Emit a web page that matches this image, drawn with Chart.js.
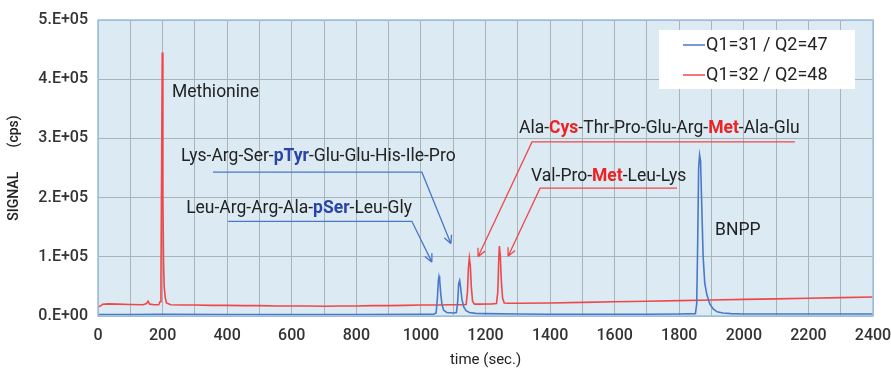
<!DOCTYPE html>
<html>
<head>
<meta charset="utf-8">
<script src="https://cdn.jsdelivr.net/npm/chart.js@4.4.1/dist/chart.umd.min.js"></script>
<style>
html, body { margin: 0; background: #fff; }
</style>
</head>
<body>
<canvas id="myChart" width="891" height="371"></canvas>
<script>
// chromatogram traces (time in sec, signal in cps)
var redTime = [0, 8, 15, 30, 60, 100, 140, 150, 155, 160, 175, 188, 192, 195, 197, 199, 201, 203, 205, 208, 212, 225, 260, 300, 350, 400, 450, 500, 550, 600, 650, 700, 750, 800, 850, 900, 950, 1000, 1050, 1100, 1130, 1140, 1144, 1147, 1150, 1153, 1156, 1160, 1166, 1180, 1220, 1234, 1238, 1241, 1243, 1246, 1249, 1253, 1258, 1270, 1300, 1400, 1500, 1600, 1700, 1800, 1900, 2000, 2100, 2200, 2300, 2400];
var redSignal = [15000, 17000, 20000, 20500, 20000, 19500, 19000, 21000, 25000, 20000, 19000, 19000, 24000, 60000, 250000, 445000, 200000, 90000, 50000, 32000, 22000, 19000, 18500, 18500, 18000, 18000, 17500, 17500, 17000, 17000, 17000, 16500, 17000, 17000, 17500, 17500, 18000, 18500, 18500, 19000, 19000, 19500, 40000, 80000, 98000, 85000, 50000, 25000, 20000, 20000, 20500, 21000, 40000, 95000, 118000, 100000, 60000, 30000, 22000, 21500, 21500, 22000, 23000, 24000, 25000, 26000, 27000, 28000, 29000, 30000, 31000, 32000];

var blueTime = [0, 100, 200, 400, 600, 800, 1000, 1040, 1047, 1051, 1054, 1056, 1058, 1061, 1065, 1070, 1080, 1100, 1110, 1114, 1117, 1120, 1123, 1127, 1133, 1140, 1150, 1170, 1200, 1300, 1400, 1500, 1600, 1700, 1800, 1850, 1854, 1857, 1860, 1863, 1866, 1870, 1874, 1879, 1886, 1895, 1905, 1917, 1935, 1960, 2000, 2200, 2400];
var blueSignal = [2500, 2500, 3000, 2500, 2500, 2500, 3000, 3000, 5000, 30000, 60000, 67000, 62000, 40000, 20000, 10000, 6000, 5000, 6000, 25000, 55000, 60000, 48000, 28000, 15000, 9000, 6000, 4500, 4000, 3500, 3000, 3000, 3000, 3000, 3500, 4000, 20000, 120000, 250000, 272000, 262000, 180000, 100000, 55000, 35000, 20000, 12000, 7000, 5000, 4000, 3500, 3500, 3500];

var seriesLabels = ['Q1=31 / Q2=47', 'Q1=32 / Q2=48'];
var yTicks = [0, 100000, 200000, 300000, 400000, 500000];

var BLUE = '#4a78c8';
var RED = '#f0474a';
var FONT = 'Roboto';

// peak labels, anchored in data units (time, signal)
var notes = [
    { x: 229, y: 378000, parts: [['Methionine']] },
    { x: 1911, y: 144000, parts: [['BNPP']] },
    { x: 257, y: 269000, parts: [['Lys-Arg-Ser-'], ['pTyr', '#2a44a8', true], ['-Glu-Glu-His-Ile-Pro']],
      color: BLUE, leader: [[356, 243000], [1003, 243000], [1093, 122000]] },
    { x: 273, y: 182000, parts: [['Leu-Arg-Arg-Ala-'], ['pSer', '#2a44a8', true], ['-Leu-Gly']],
      color: BLUE, leader: [[403, 160000], [972, 160000], [1034, 91000]] },
    { x: 1304, y: 316000, parts: [['Ala-'], ['Cys', '#ee2222', true], ['-Thr-Pro-Glu-Arg-'], ['Met', '#ee2222', true], ['-Ala-Glu']],
      color: RED, leader: [[2158, 294000], [1344, 294000], [1177, 100000]] },
    { x: 1341, y: 236000, parts: [['Val-Pro-'], ['Met', '#ee2222', true], ['-Leu-Lys']],
      color: RED, leader: [[1793, 216000], [1369, 216000], [1270, 101000]] }
];

function sci(v) {
    if (v === 0) return '0.E+00';
    var e = Math.floor(Math.log10(v));
    var m = Math.round(v / Math.pow(10, e));
    return m + '.E+' + (e < 10 ? '0' : '') + e;
}

function toPoints(xs, ys) {
    return xs.map(function (t, i) { return { x: t, y: ys[i] }; });
}

var plotDecor = {
    id: 'plotDecor',
    beforeDraw: function (chart) {
        var a = chart.chartArea, c = chart.ctx;
        c.save();
        c.fillStyle = '#dcebf3';
        c.fillRect(a.left, a.top, a.right - a.left, a.bottom - a.top);
        c.restore();
    },
    afterDatasetsDraw: function (chart) {
        var a = chart.chartArea, c = chart.ctx;
        var xs = chart.scales.x, ys = chart.scales.y;
        c.save();
        // frame
        c.strokeStyle = '#9fc0e2';
        c.lineWidth = 1.5;
        c.strokeRect(a.left, a.top, a.right - a.left, a.bottom - a.top);

        // annotations
        c.textBaseline = 'middle';
        notes.forEach(function (n) {
            var px = xs.getPixelForValue(n.x), py = ys.getPixelForValue(n.y);
            n.parts.forEach(function (p) {
                c.font = (p[2] ? 'bold ' : '') + '17.5px ' + FONT;
                c.fillStyle = p[1] || '#222';
                c.fillText(p[0], px, py);
                px += c.measureText(p[0]).width;
            });
            if (n.leader) {
                var pts = n.leader.map(function (q) {
                    return [xs.getPixelForValue(q[0]), ys.getPixelForValue(q[1])];
                });
                c.strokeStyle = n.color;
                c.lineWidth = 1.3;
                c.beginPath();
                c.moveTo(pts[0][0], pts[0][1]);
                for (var i = 1; i < pts.length; i++) c.lineTo(pts[i][0], pts[i][1]);
                var tip = pts[pts.length - 1], prev = pts[pts.length - 2];
                var ang = Math.atan2(tip[1] - prev[1], tip[0] - prev[0]);
                [0.45, -0.45].forEach(function (d) {
                    c.moveTo(tip[0], tip[1]);
                    c.lineTo(tip[0] - 9 * Math.cos(ang + d), tip[1] - 9 * Math.sin(ang + d));
                });
                c.stroke();
            }
        });

        // legend box
        var bx = a.right - 214, by = a.top + 10;
        c.fillStyle = '#fff';
        c.fillRect(bx, by, 196, 59);
        chart.data.datasets.forEach(function (ds, i) {
            var ly = by + 15 + i * 30;
            c.strokeStyle = ds.borderColor;
            c.lineWidth = 1.5;
            c.beginPath();
            c.moveTo(bx + 24, ly);
            c.lineTo(bx + 46, ly);
            c.stroke();
            c.font = '18px ' + FONT;
            c.fillStyle = '#222';
            c.fillText(ds.label, bx + 47, ly);
        });
        c.restore();
    }
};

var ctx = document.getElementById('myChart').getContext('2d');
var myChart = new Chart(ctx, {
    type: 'line',
    data: {
        datasets: [{
            label: seriesLabels[0],
            data: toPoints(blueTime, blueSignal),
            borderColor: BLUE,
            borderWidth: 1.6,
            pointRadius: 0,
            tension: 0
        }, {
            label: seriesLabels[1],
            data: toPoints(redTime, redSignal),
            borderColor: RED,
            borderWidth: 1.6,
            pointRadius: 0,
            tension: 0
        }]
    },
    options: {
        responsive: false,
        animation: false,
        layout: { padding: { top: 20, right: 18, left: 0, bottom: 0 } },
        plugins: {
            legend: { display: false },
            tooltip: { enabled: false }
        },
        scales: {
            x: {
                type: 'linear',
                min: 0,
                max: 2400,
                afterFit: function (s) { s.height = 55; s.paddingLeft = 0; s.paddingRight = 0; },
                grid: { color: '#aab3b8', drawTicks: false },
                border: { display: false },
                ticks: {
                    stepSize: 100,
                    autoSkip: false,
                    maxRotation: 0,
                    padding: 10,
                    color: '#333',
                    font: { family: FONT, size: 16, weight: '500' },
                    callback: function (v) { return v % 200 === 0 ? v : ''; }
                },
                title: {
                    display: true,
                    text: 'time (sec.)',
                    color: '#222',
                    font: { family: FONT, size: 15 },
                    padding: { top: 0, bottom: 2 }
                }
            },
            y: {
                min: 0,
                max: 500000,
                afterFit: function (s) { s.width = 98; s.paddingTop = 0; s.paddingBottom = 0; },
                afterBuildTicks: function (s) { s.ticks = yTicks.map(function (v) { return { value: v }; }); },
                grid: { color: '#aab3b8', drawTicks: false },
                border: { display: false },
                ticks: {
                    padding: 10,
                    color: '#333',
                    font: { family: FONT, size: 16, weight: '500' },
                    callback: function (v) { return sci(v); }
                },
                title: {
                    display: true,
                    text: 'SIGNAL       (cps)',
                    color: '#222',
                    font: { family: FONT, size: 14, weight: '500' },
                    padding: { top: 6, bottom: 0 }
                }
            }
        }
    },
    plugins: [plotDecor]
});
</script>
</body>
</html>
